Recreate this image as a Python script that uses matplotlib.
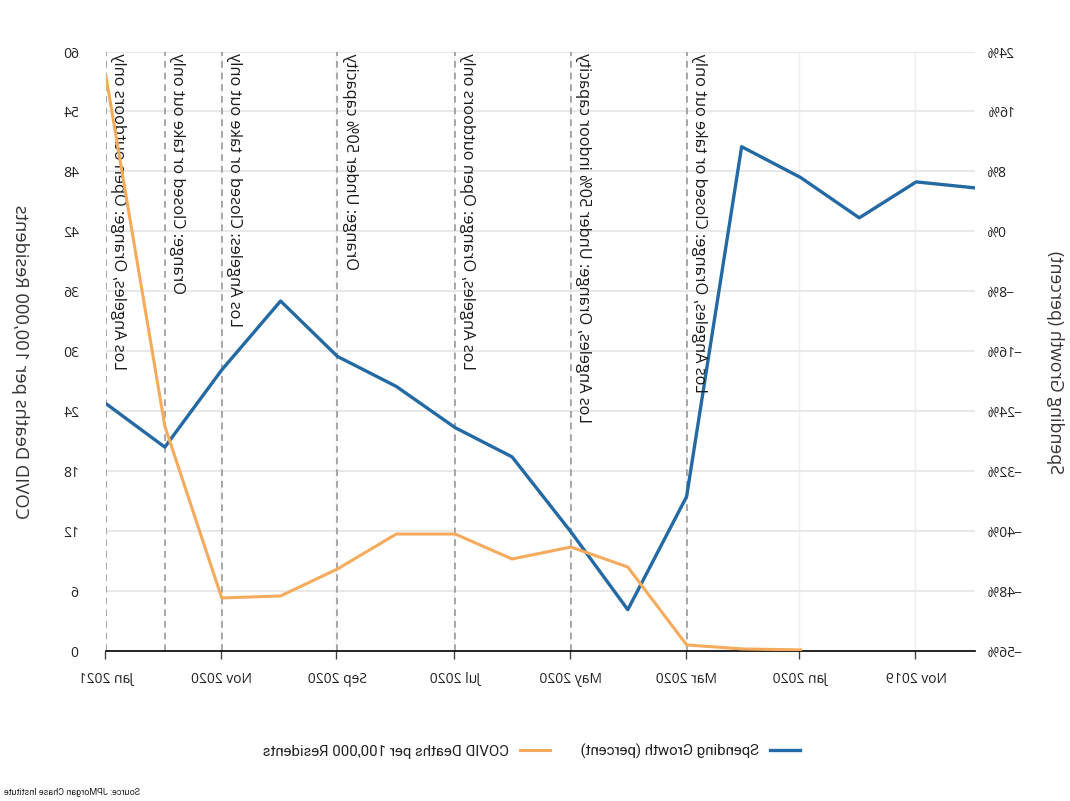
import numpy as np
import pandas as pd
import matplotlib
matplotlib.use('Agg')
import matplotlib.pyplot as plt
import matplotlib.dates as mdates
from matplotlib.ticker import FuncFormatter

plt.rcParams['font.family'] = ['Open Sans', 'DejaVu Sans']

# monthly data, Oct 2019 - Jan 2021
months = pd.date_range('2019-10-01', '2021-01-01', freq='MS')
spending = [5.8, 6.6, 1.8, 7.2, 11.3, -35.4, -50.5, -40.1, -30.1, -26.2,
            -20.7, -16.7, -9.3, -18.5, -28.8, -23.0]

death_months = pd.date_range('2020-01-01', '2021-01-01', freq='MS')
deaths = [0.1, 0.2, 0.6, 8.4, 10.4, 9.2, 11.7, 11.7, 8.2, 5.5, 5.3, 22.5, 57.5]

# restriction changes
event_dates = pd.to_datetime(['2020-03-01', '2020-05-01', '2020-07-01', '2020-09-01',
                              '2020-11-01', '2020-12-01', '2021-01-01'])
event_labels = [
    'Los Angeles, Orange: Closed or take out only',
    'Los Angeles, Orange: Under 50% indoor capacity',
    'Los Angeles, Orange: Open outdoors only',
    'Orange: Under 50% capacity',
    'Los Angeles: Closed or take out only',
    'Orange: Closed or take out only',
    'Los Angeles, Orange: Open outdoors only',
]

tick_dates = pd.date_range('2019-11-01', '2021-01-01', freq='2MS')

blue = '#2369a3'
orange = '#f5aa5c'

W, H = 1070, 801
fig = plt.figure(figsize=(W / 100, 8.015), dpi=100)
ax = fig.add_axes([95 / W, 150 / H, 869 / W, 599 / H])
ax2 = ax.twinx()

ax.plot(months, spending, color=blue, lw=2.4, label='Spending Growth (percent)', zorder=3)
ax2.plot(death_months, deaths, color=orange, lw=2.2, label='COVID Deaths per 100,000 Residents', zorder=3)

ax.set_xlim(pd.Timestamp('2019-10-01'), pd.Timestamp('2021-01-01'))
ax.set_ylim(-56, 24)
ax.set_yticks(range(-56, 25, 8))
ax.yaxis.set_major_formatter(FuncFormatter(lambda v, p: f'{int(v)}%'.replace('-', '\u2212')))
ax2.set_ylim(0, 60)
ax2.set_yticks(range(0, 61, 6))

ax.set_xticks(tick_dates)
ax.xaxis.set_major_formatter(mdates.DateFormatter('%b %Y'))

ax.grid(axis='y', color='#e8e8e8', lw=1.4)
ax.grid(axis='x', color='#efefef', lw=1)
ax.set_axisbelow(True)

for a in (ax, ax2):
    for s in a.spines.values():
        s.set_visible(False)
ax.spines['bottom'].set_visible(True)
ax.spines['bottom'].set_color('black')
ax.spines['bottom'].set_linewidth(1.2)

ax.tick_params(axis='x', length=6, width=1, color='#444444', pad=9, labelsize=10, labelcolor='#222222')
ax.tick_params(axis='y', length=0, pad=9, labelsize=10, labelcolor='#222222')
ax2.tick_params(axis='y', length=0, pad=19, labelsize=10, labelcolor='#222222')

for d, lab in zip(event_dates, event_labels):
    ax.axvline(d, color='#999999', lw=1.2, ls=(0, (4, 3)), zorder=2)
    ax.annotate(lab, xy=(d, 1), xycoords=('data', 'axes fraction'),
                xytext=(-3, -1), textcoords='offset points',
                rotation=90, ha='right', va='top', fontsize=11.8, color='#1a1a1a', zorder=4)

fig.text(15 / W, 1 - 362 / H, 'Spending Growth (percent)', rotation=90,
         ha='center', va='center', fontsize=12.8, color='#333333')
fig.text(1050 / W, 1 - 362 / H, 'COVID Deaths per 100,000 Residents', rotation=90,
         ha='center', va='center', fontsize=13.2, color='#333333')

h1, l1 = ax.get_legend_handles_labels()
h2, l2 = ax2.get_legend_handles_labels()
leg = fig.legend(h1 + h2, l1 + l2, loc='center', bbox_to_anchor=(538 / W, 50 / H), ncol=2,
                 frameon=False, handlelength=2.0, columnspacing=2.0, handletextpad=0.8,
                 prop={'family': 'Roboto', 'size': 10.8})
for t in leg.get_texts():
    t.set_color('#222222')

fig.text(1066 / W, 9 / H, 'Source: JPMorgan Chase Institute', ha='right', va='center',
         fontsize=6.5, family='Roboto', color='#222222')

# the reference picture is a mirror image, so flip the rendered canvas left-right
fig.canvas.draw()
img = np.asarray(fig.canvas.buffer_rgba())
plt.imsave('out.png', img[:, ::-1])
